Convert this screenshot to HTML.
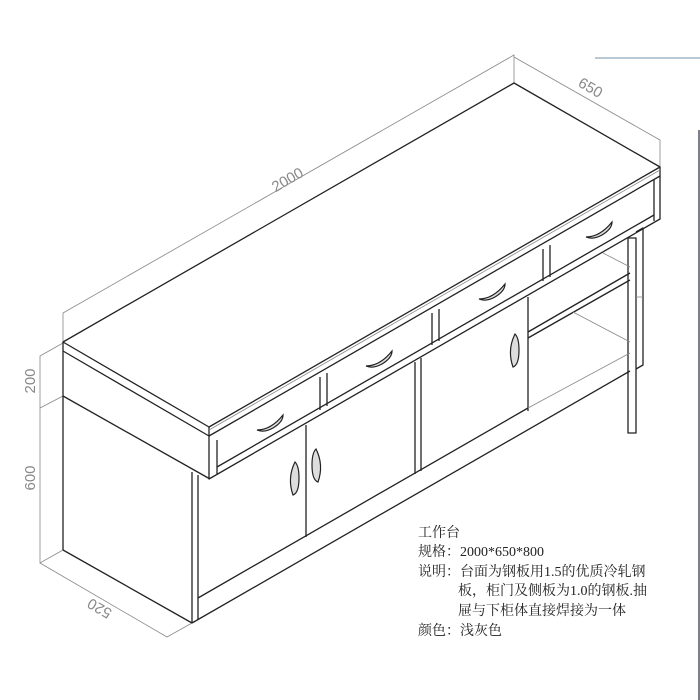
<!DOCTYPE html>
<html><head><meta charset="utf-8"><style>
html,body{margin:0;padding:0;background:#fff;}
svg{display:block}
.t{font-family:"Liberation Serif","Noto Serif CJK SC","Noto Sans CJK SC",serif;font-size:14px;fill:#222}
.d{font-family:"Liberation Sans",sans-serif;font-size:15px;fill:#888}
</style></head><body>
<svg width="700" height="700" viewBox="0 0 700 700" xmlns="http://www.w3.org/2000/svg">
<rect width="700" height="700" fill="#fff"/>
<line x1="595" y1="58" x2="700" y2="58" stroke="#b8c8d4" stroke-width="2"/>
<line x1="699" y1="130" x2="699" y2="700" stroke="#556" stroke-width="1.5"/>
<g stroke="#888" stroke-width="0.8" fill="none">
<polyline points="63,342 63,313 514,55 514,83"/>
<polyline points="514,57 660,140 660,167"/>
<polyline points="63,343 40,356 40,563 63,550"/>
<line x1="40" y1="408" x2="63" y2="396"/>
<polyline points="40,563 167,637 192,623"/>
</g>
<text class="d" transform="translate(290,184) rotate(-30)" text-anchor="middle">2000</text>
<text class="d" transform="translate(588,92) rotate(30)" text-anchor="middle">650</text>
<text class="d" transform="translate(35,381) rotate(-90)" text-anchor="middle">200</text>
<text class="d" transform="translate(35,478) rotate(-90)" text-anchor="middle">600</text>
<text class="d" transform="translate(102,604) rotate(210)" text-anchor="middle">520</text>
<g stroke="#222" stroke-width="1.3" fill="none" stroke-linejoin="round">
<polygon points="209,427 660,167 514,83 63,342"/>
<polyline points="63,342 63,351 209,436 660,176 660,167"/>
<line x1="209" y1="427" x2="209" y2="436"/>
<polyline points="209,436 209,479 660,219 660,176"/>
<line x1="217" y1="440" x2="217" y2="474"/>
<line x1="654" y1="180" x2="654" y2="221"/>
<line x1="217" y1="467" x2="654" y2="215"/>
<line x1="320" y1="377" x2="320" y2="410"/>
<line x1="327" y1="373" x2="327" y2="406"/>
<line x1="432" y1="313" x2="432" y2="345"/>
<line x1="439" y1="309" x2="439" y2="341"/>
<line x1="543" y1="249" x2="543" y2="281"/>
<line x1="550" y1="245" x2="550" y2="277"/>
<line x1="63" y1="351" x2="63" y2="550"/>
<line x1="63" y1="396" x2="210" y2="479"/>
<line x1="63" y1="550" x2="192" y2="623"/>
<line x1="192" y1="472" x2="192" y2="623"/>
<line x1="198" y1="475" x2="198" y2="620"/>
<line x1="306" y1="425" x2="306" y2="537"/>
<line x1="415" y1="362" x2="415" y2="474"/>
<line x1="421" y1="358" x2="421" y2="471"/>
<line x1="528" y1="297" x2="528" y2="411"/>
<line x1="198" y1="598" x2="528" y2="408"/>
<line x1="192" y1="623" x2="630" y2="371"/>
<line x1="528" y1="332" x2="630" y2="273"/>
<line x1="528" y1="338" x2="630" y2="280"/>
<rect x="628" y="238" width="8" height="195"/>
<polyline points="636,232 643,228 643,365 636,369"/>
</g>
<g stroke="#888" stroke-width="0.8" fill="none">
<line x1="603" y1="253" x2="630" y2="267"/>
<line x1="573" y1="312" x2="630" y2="342"/>
<line x1="528" y1="408" x2="630" y2="353"/>
<line x1="209" y1="430" x2="660" y2="170"/>
<line x1="636" y1="297" x2="643" y2="297"/>
</g>
<g stroke="#222" stroke-width="1.2" fill="#ddd">
<path d="M257,430 q14,0 26,-15 q0,7 -10,13 q-9,5 -16,2z"/>
<path d="M366,366 q14,0 26,-15 q0,7 -10,13 q-9,5 -16,2z"/>
<path d="M479,299 q14,0 26,-15 q0,7 -10,13 q-9,5 -16,2z"/>
<path d="M586,237 q14,0 26,-15 q0,7 -10,13 q-9,5 -16,2z"/>
<path d="M295,462 q-8,16 -2,33 q6,-2 6,-17 q0,-12 -4,-16z"/>
<path d="M316,449 q8,16 2,33 q-6,-2 -6,-17 q0,-12 4,-16z"/>
<path d="M515,334 q-8,16 -2,33 q6,-2 6,-17 q0,-12 -4,-16z"/>
</g>
<text class="t" x="418" y="537">工作台</text>
<text class="t" x="418" y="556">规格：2000*650*800</text>
<text class="t" x="418" y="576">说明：台面为钢板用1.5的优质冷轧钢</text>
<text class="t" x="458" y="595">板，柜门及侧板为1.0的钢板.抽</text>
<text class="t" x="458" y="615">屉与下柜体直接焊接为一体</text>
<text class="t" x="418" y="635">颜色：浅灰色</text>
</svg>
</body></html>
